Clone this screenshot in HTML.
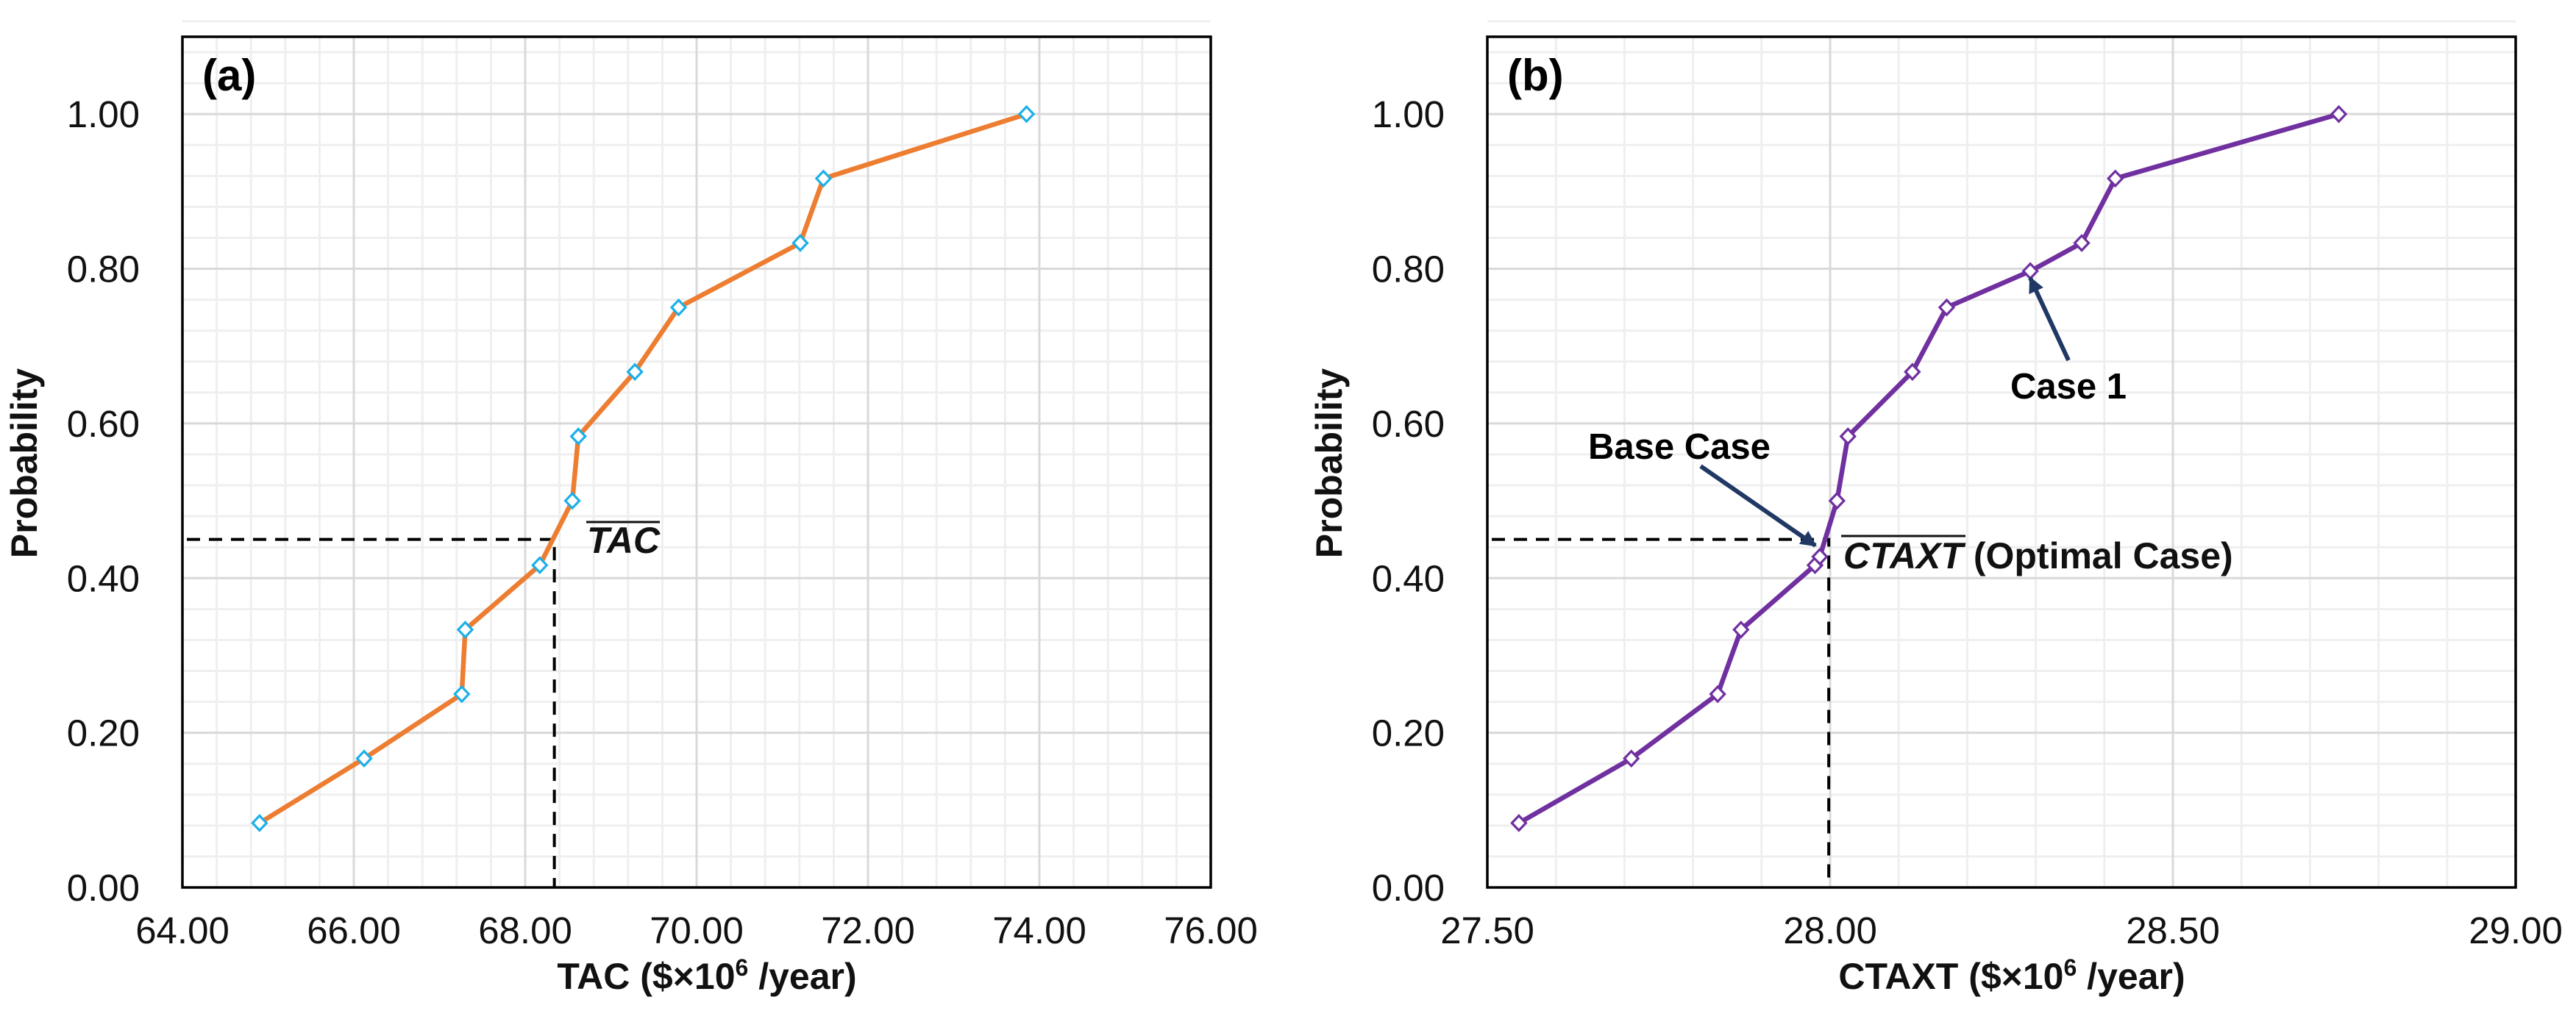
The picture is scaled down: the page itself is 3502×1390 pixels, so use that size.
<!DOCTYPE html>
<html><head><meta charset="utf-8">
<style>
html,body{margin:0;padding:0;background:#fff;}
svg{display:block;font-family:"Liberation Sans",Arial,sans-serif;}
</style></head>
<body>
<svg id="fig" width="3502" height="1390" viewBox="0 0 3502 1390" xmlns="http://www.w3.org/2000/svg">
<defs>
<marker id="arr" viewBox="0 0 10 10" refX="9" refY="5" markerWidth="3.6" markerHeight="3.6" orient="auto" markerUnits="strokeWidth">
<path d="M0,0 L10,5 L0,10 z" fill="#1f3864"/>
</marker>
</defs>
<g id="panelA"></g>
<g id="panelB"></g>
</svg>
<script>
// ---- Data panel (a) ----
const probA = [0.0833,0.1667,0.25,0.3333,0.4167,0.5,0.5833,0.6667,0.75,0.8333,0.9167,1.0];
const tacA = [64.90,66.12,67.26,67.30,68.17,68.55,68.62,69.28,69.79,71.21,71.48,73.85];
const xTicksA = ["64.00","66.00","68.00","70.00","72.00","74.00","76.00"];
const meanA = [68.34, 0.45];
// ---- Data panel (b) ----
const probB = [0.0833,0.1667,0.25,0.3333,0.4167,0.4277,0.5,0.5833,0.6667,0.75,0.797,0.8333,0.9167,1.0];
const ctaxtB = [27.546,27.71,27.836,27.87,27.978,27.985,28.010,28.026,28.120,28.170,28.292,28.367,28.416,28.742];
const xTicksB = ["27.50","28.00","28.50","29.00"];
const meanB = [27.998, 0.45];
const yTicks = ["0.00","0.20","0.40","0.60","0.80","1.00"];

const NS="http://www.w3.org/2000/svg";
function mk(parent,tag,attrs,text){
  const e=document.createElementNS(NS,tag);
  for(const k in attrs) e.setAttribute(k,attrs[k]);
  if(text!==undefined) e.textContent=text;
  parent.appendChild(e); return e;
}
const TOP=50, BOT=1207, YMAX=1.1;
function yS(v){return BOT-(v/YMAX)*(BOT-TOP);}

function panel(g,cfg){
  const L=cfg.left,R=cfg.left+1398;
  const xS=v=>L+(v-cfg.xmin)/(cfg.xmax-cfg.xmin)*(R-L);
  for(let i=0;i<=Math.round((cfg.xmax-cfg.xmin)/cfg.xminor);i++){
    const x=xS(cfg.xmin+i*cfg.xminor);
    const l=mk(g,'line',{x1:x,x2:x,y1:TOP,y2:BOT,stroke:'#efefef','stroke-width':3});
    
    
  }
  for(let i=0;i<=Math.round(YMAX/0.04);i++){
    const y=yS(i*0.04);
    const l=mk(g,'line',{x1:L,x2:R,y1:y,y2:y,stroke:'#efefef','stroke-width':3});
    
    
  }
  cfg.xticks.forEach(t=>{
    const x=xS(parseFloat(t));
    const l=mk(g,'line',{x1:x,x2:x,y1:TOP,y2:BOT,stroke:'#d9d9d9','stroke-width':3});
    
    
    const tx=mk(g,'text',{x:x,y:1283,'font-size':51,'text-anchor':'middle',fill:'#111'},t);
    
    
  });
  yTicks.forEach(t=>{
    const y=yS(parseFloat(t));
    const l=mk(g,'line',{x1:L,x2:R,y1:y,y2:y,stroke:'#d9d9d9','stroke-width':3});
    
    
    const tx=mk(g,'text',{x:L-58,y:y+18,'font-size':51,'text-anchor':'end',fill:'#111'},t);
    
    
  });
  const fr=mk(g,'rect',{x:L,y:TOP,width:R-L,height:BOT-TOP,fill:'none',stroke:'#000','stroke-width':3.5});
  
  
  const mx=xS(cfg.mean[0]), my=yS(cfg.mean[1]);
  const d=mk(g,'path',{d:`M${L+6},${my} H${mx} V${BOT}`,fill:'none',stroke:'#000','stroke-width':4,'stroke-dasharray':'18,12'});
  
  
  const pts=cfg.xs.map((v,i)=>[xS(v),yS(cfg.ys[i])]);
  const pl=mk(g,'polyline',{points:pts.map(p=>p.join(',')).join(' '),fill:'none',stroke:cfg.color,'stroke-width':6.5,'stroke-linejoin':'round'});
  
  
  pts.forEach(p=>{
    const m=mk(g,'path',{d:`M${p[0]},${p[1]-10} L${p[0]+9.5},${p[1]} L${p[0]},${p[1]+10} L${p[0]-9.5},${p[1]} Z`,fill:'#fff',stroke:cfg.mcolor,'stroke-width':3.2});
    
    
  });
  const pl2=mk(g,'text',{x:L+27,y:123,'font-size':60,'font-weight':'bold',fill:'#000'},cfg.tag);
  
  
  const xt=mk(g,'text',{x:(L+R)/2+14,y:1345,'font-size':50,'font-weight':'bold','text-anchor':'middle',fill:'#111'});
  
  
  xt.innerHTML=cfg.xtitle+' ($×10<tspan dy="-18" font-size="32">6</tspan><tspan dy="18"> /year)</tspan>';
  const yt=mk(g,'text',{x:0,y:0,'font-size':50,'font-weight':'bold','text-anchor':'middle',fill:'#111',transform:`translate(${L-198},630) rotate(-90)`},'Probability');
  
  
}

const gA=document.getElementById('panelA'), gB=document.getElementById('panelB');
panel(gA,{left:248,xmin:64,xmax:76,xminor:0.4,xticks:xTicksA,xs:tacA,ys:probA,color:'#ed7d31',mcolor:'#1cb0ea',mean:meanA,tag:'(a)',xtitle:'TAC'});
panel(gB,{left:2022,xmin:27.5,xmax:29,xminor:0.1,xticks:xTicksB,xs:ctaxtB,ys:probB,color:'#7030a0',mcolor:'#7030a0',mean:meanB,tag:'(b)',xtitle:'CTAXT'});

let t=mk(gA,'text',{x:798,y:752,'font-size':50,'font-weight':'bold','font-style':'italic',fill:'#111'},'TAC');


let ol=mk(gA,'line',{x1:797,x2:897,y1:710,y2:710,stroke:'#111','stroke-width':3});


t=mk(gB,'text',{x:2506,y:773,'font-size':50,'font-weight':'bold',fill:'#111'});


t.innerHTML='<tspan font-style="italic">CTAXT</tspan> (Optimal Case)';
ol=mk(gB,'line',{x1:2503,x2:2672,y1:729,y2:729,stroke:'#111','stroke-width':3});


t=mk(gB,'text',{x:2159,y:624,'font-size':49,'font-weight':'bold',fill:'#000'},'Base Case');


let a=mk(gB,'line',{x1:2312,y1:634,x2:2468,y2:742,stroke:'#1f3864','stroke-width':6,'marker-end':'url(#arr)'});


t=mk(gB,'text',{x:2733,y:542,'font-size':49,'font-weight':'bold',fill:'#000'},'Case 1');


a=mk(gB,'line',{x1:2812,y1:490,x2:2760,y2:378,stroke:'#1f3864','stroke-width':6,'marker-end':'url(#arr)'});


</script>
</body></html>
